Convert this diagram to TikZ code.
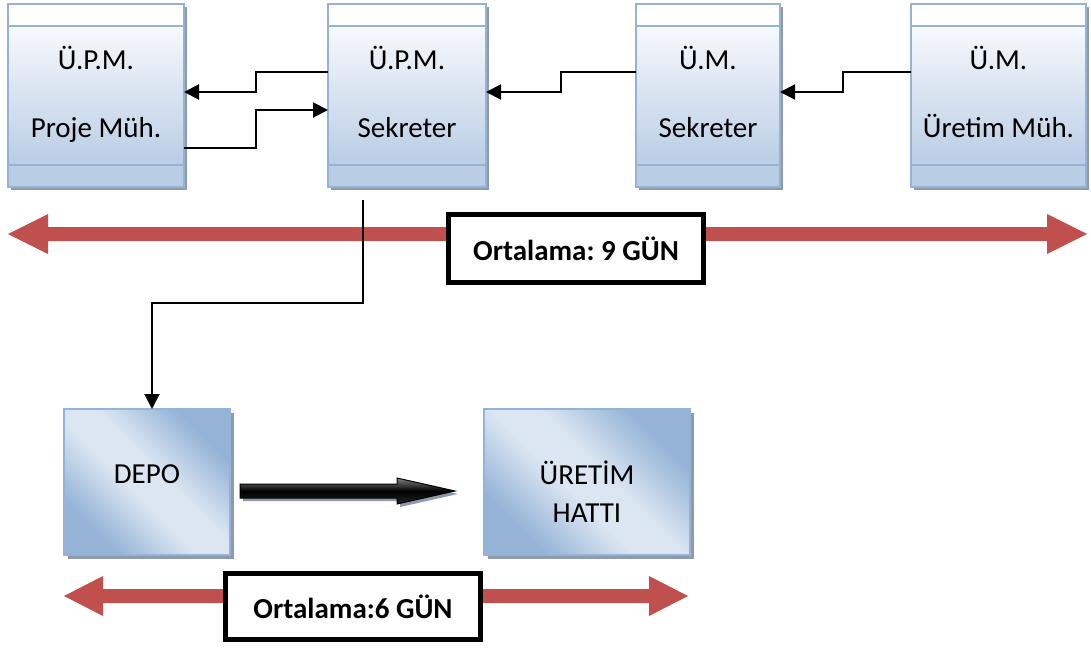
\documentclass[tikz,border=0pt]{standalone}
\usepackage{fontspec}
\setmainfont{Carlito}
\usetikzlibrary{arrows.meta,calc,shadows}
\frenchspacing

\definecolor{boxline}{HTML}{95B3D7}
\definecolor{boxtop}{HTML}{F7F9FC}
\definecolor{boxbot}{HTML}{B9CDE5}
\definecolor{boxshadow}{HTML}{8D9BAD}
\definecolor{bdark}{HTML}{95B3D7}
\definecolor{blight}{HTML}{DCE6F2}
\definecolor{spanred}{HTML}{C0504D}

% light band running diagonally across a blue square
\pgfdeclareverticalshading{crossblue}{100bp}{color(0bp)=(bdark); color(27bp)=(bdark); color(45bp)=(blight); color(55bp)=(blight); color(73bp)=(bdark); color(100bp)=(bdark)}

\tikzset{
  lanebox/.style={draw=boxline, line width=2pt, inner sep=0pt, outer sep=0pt, minimum height=183pt},
  conn/.style={line width=2pt, -{Triangle[length=15pt,width=15pt]}},
  flowbox/.style={draw=boxline, line width=1.5pt, shading=crossblue, shading angle=-45,
    inner sep=0pt, outer sep=0pt,
    general shadow={fill=boxshadow, shadow xshift=4pt, shadow yshift=-4pt}},
  spanlabel/.style={draw=black, line width=5pt, fill=white, inner sep=0pt,
    font=\bfseries\fontsize{29}{34}\selectfont},
  boxtext/.style={anchor=base, inner sep=0pt},
}

\begin{document}
\begin{tikzpicture}[x=1pt, y=-1pt, font=\fontsize{29}{34}\selectfont]
\useasboundingbox (0,0) rectangle (1091,650);
\fill[white] (0,0) rectangle (1091,650);

% swimlane-style boxes of the approval chain
\foreach \n/\xa/\xb/\ta/\tb in {p/8/184/Ü.P.M./Proje Müh., s/328/486/Ü.P.M./Sekreter,
    m/636/780/Ü.M./Sekreter, u/911/1086/Ü.M./Üretim Müh.} {
  \fill[boxshadow] (\xa+3,7) rectangle (\xb+3,190);
  \fill[white] (\xa,4) rectangle (\xb,26);
  \shade[top color=boxtop, bottom color=boxbot] (\xa,26) rectangle (\xb,165);
  \fill[boxbot] (\xa,165) rectangle (\xb,187);
  \draw[boxline, line width=1.5pt] (\xa,26) -- (\xb,26) (\xa,165) -- (\xb,165);
  \node[lanebox, minimum width={\xb-\xa}] (\n) at ({(\xa+\xb)/2},95.5) {};
  \node[boxtext] at ({(\xa+\xb)/2},70) {\ta};
  \node[boxtext] at ({(\xa+\xb)/2},137) {\tb};
}

% red time spans
\fill[spanred] (8,234) -- (48,214) -- (48,227) -- (1047,227) -- (1047,214) -- (1087,234)
  -- (1047,254) -- (1047,241) -- (48,241) -- (48,254) -- cycle;
\fill[spanred] (64,596) -- (103,576) -- (103,589) -- (649,589) -- (649,576) -- (688,596)
  -- (649,616) -- (649,603) -- (103,603) -- (103,616) -- cycle;

\node[spanlabel, minimum width=255pt, minimum height=68pt] (l1) at (576,248.5) {Ortalama: 9 GÜN};

% store and production line
\node[flowbox, minimum width=166pt, minimum height=146pt] (d) at (147,482) {};
\node[boxtext] at (147,483) {DEPO};
\node[flowbox, minimum width=206pt, minimum height=146pt] (h) at (587,482) {};
\node[boxtext] at (587,484) {ÜRETİM};
\node[boxtext] at (587,522) {HATTI};

\node[spanlabel, minimum width=255pt, minimum height=66pt] (l2) at (353,606.5) {Ortalama:6 GÜN};

% document flow between the offices
\draw[conn] (s.west |- 0,72) -- (256,72) -- (256,92) -- (p.east |- 0,92);
\draw[conn] (p.east |- 0,148) -- (256,148) -- (256,110) -- (s.west |- 0,110);
\draw[conn] (m.west |- 0,72) -- (561,72) -- (561,92) -- (s.east |- 0,92);
\draw[conn] (u.west |- 0,72) -- (843,72) -- (843,92) -- (m.east |- 0,92);
\coordinate (sdrop) at (363,200);
\draw[conn] (sdrop) -- (363,303) -| (d.north -| 152,0);

% block arrow from store to production line
\fill[boxshadow] (243,487) -- (400,487) -- (400,481) -- (458,494) -- (400,507) -- (400,501)
  -- (243,501) -- cycle;
\shade[top color=black!50, bottom color=black!85, middle color=black, draw=black, line width=1pt]
  (240,484) -- (397,484) -- (397,478) -- (455,491) -- (397,504) -- (397,498) -- (240,498) -- cycle;
\end{tikzpicture}
\end{document}
